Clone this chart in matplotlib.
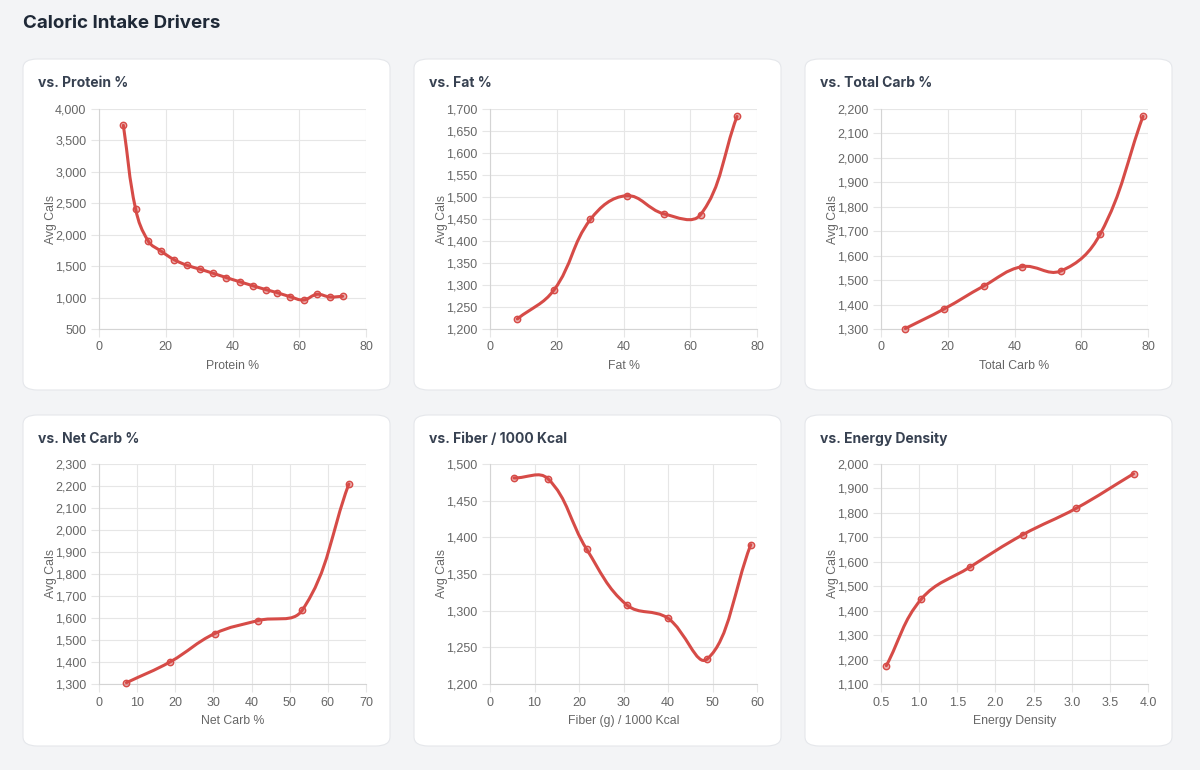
import numpy as np
import matplotlib
matplotlib.use("Agg")
import matplotlib.pyplot as plt
from matplotlib.patches import FancyBboxPatch, PathPatch
from matplotlib.path import Path
from matplotlib.ticker import FuncFormatter, MultipleLocator

plt.rcParams['font.family'] = ['Inter', 'DejaVu Sans']
AXFONT = ['Liberation Sans', 'DejaVu Sans']

# data
protein_x = [7.3, 11.0, 14.8, 18.7, 22.5, 26.4, 30.4, 34.2, 38.2, 42.1, 46.0, 49.9, 53.4, 57.2, 61.3, 65.3, 69.1, 73.0]
protein_y = [3740, 2402, 1895, 1735, 1603, 1513, 1450, 1386, 1317, 1253, 1190, 1128, 1078, 1015, 962, 1052, 1010, 1020]

fat_x = [8.2, 19.2, 30.1, 40.9, 52.0, 63.1, 74.0]
fat_y = [1223, 1289, 1449, 1503, 1462, 1460, 1683]

tcarb_x = [7.3, 18.9, 30.8, 42.2, 53.8, 65.7, 78.5]
tcarb_y = [1302, 1382, 1476, 1555, 1537, 1689, 2170]

ncarb_x = [7.2, 18.7, 30.3, 41.6, 53.3, 65.5]
ncarb_y = [1306, 1401, 1529, 1588, 1636, 2209]

fiber_x = [5.4, 13.0, 21.7, 30.7, 39.9, 48.8, 58.6]
fiber_y = [1481, 1480, 1384, 1308, 1290, 1234, 1390]

dens_x = [0.57, 1.03, 1.67, 2.36, 3.06, 3.81]
dens_y = [1175, 1448, 1579, 1711, 1819, 1960]

panels = [
    ("vs. Protein %", "Protein %", protein_x, protein_y, (0, 80, 20), (500, 4000, 500)),
    ("vs. Fat %", "Fat %", fat_x, fat_y, (0, 80, 20), (1200, 1700, 50)),
    ("vs. Total Carb %", "Total Carb %", tcarb_x, tcarb_y, (0, 80, 20), (1300, 2200, 100)),
    ("vs. Net Carb %", "Net Carb %", ncarb_x, ncarb_y, (0, 70, 10), (1300, 2300, 100)),
    ("vs. Fiber / 1000 Kcal", "Fiber (g) / 1000 Kcal", fiber_x, fiber_y, (0, 60, 10), (1200, 1500, 50)),
    ("vs. Energy Density", "Energy Density", dens_x, dens_y, (0.5, 4.0, 0.5), (1100, 2000, 100)),
]

W, H = 1200, 770
BG = '#f3f4f6'
RED = '#d64b47'
GRID = '#e6e6e6'
TICK = '#666666'

fig = plt.figure(figsize=(12, 7.7), dpi=100)
fig.patch.set_facecolor(BG)

fig.text(23 / W, 1 - 23 / H, "Caloric Intake Drivers", fontsize=13.5, fontweight='bold',
         color='#1f2937', va='center', ha='left')

card_cols = [23, 414, 805]
card_rows = [59, 415]
card_w, card_h = 367, 331
axes_cols = [99, 490, 881]
axes_rows = [109, 464]
ax_w, ax_h = 267, 220


def spline_path(xs, ys, xlim, ylim, pw, ph, tension=0.4):
    # chart.js style bezier control points, computed in pixel space
    px = (np.array(xs) - xlim[0]) / (xlim[1] - xlim[0]) * pw
    py = (np.array(ys) - ylim[0]) / (ylim[1] - ylim[0]) * ph
    n = len(px)
    verts = [(px[0], py[0])]
    codes = [Path.MOVETO]
    cps = []
    for i in range(n):
        p0 = (px[max(i - 1, 0)], py[max(i - 1, 0)])
        p1 = (px[i], py[i])
        p2 = (px[min(i + 1, n - 1)], py[min(i + 1, n - 1)])
        d01 = np.hypot(p1[0] - p0[0], p1[1] - p0[1])
        d12 = np.hypot(p2[0] - p1[0], p2[1] - p1[1])
        tot = d01 + d12
        s01 = d01 / tot if tot else 0
        s12 = d12 / tot if tot else 0
        fa = tension * s01
        fb = tension * s12
        prev_cp = (p1[0] - fa * (p2[0] - p0[0]), p1[1] - fa * (p2[1] - p0[1]))
        next_cp = (p1[0] + fb * (p2[0] - p0[0]), p1[1] + fb * (p2[1] - p0[1]))
        cps.append((prev_cp, next_cp))
    for i in range(1, n):
        verts += [cps[i - 1][1], cps[i][0], (px[i], py[i])]
        codes += [Path.CURVE4] * 3
    verts = np.array(verts)
    verts[:, 0] = verts[:, 0] / pw * (xlim[1] - xlim[0]) + xlim[0]
    verts[:, 1] = verts[:, 1] / ph * (ylim[1] - ylim[0]) + ylim[0]
    return Path(verts, codes)


for k, (title, xlabel, xs, ys, xr, yr) in enumerate(panels):
    r, c = divmod(k, 3)
    cx, cy = card_cols[c], card_rows[r]
    card = FancyBboxPatch((cx / W, 1 - (cy + card_h) / H), card_w / W, card_h / H,
                          boxstyle="round,pad=0,rounding_size=0.012",
                          transform=fig.transFigure, facecolor='white',
                          edgecolor='#e5e7eb', linewidth=0.8, zorder=-1)
    fig.patches.append(card)
    fig.text((cx + 15) / W, 1 - (cy + 24) / H, title, fontsize=10, fontweight='bold',
             color='#374151', va='center', ha='left')

    ax = fig.add_axes([axes_cols[c] / W, 1 - (axes_rows[r] + ax_h) / H, ax_w / W, ax_h / H])
    ax.set_facecolor('white')
    xlim = (xr[0], xr[1])
    ylim = (yr[0], yr[1])
    ax.set_xlim(*xlim)
    ax.set_ylim(*ylim)
    ax.xaxis.set_major_locator(MultipleLocator(xr[2]))
    ax.yaxis.set_major_locator(MultipleLocator(yr[2]))
    if xr[2] < 1:
        ax.xaxis.set_major_formatter(FuncFormatter(lambda v, p: f"{v:.1f}"))
    else:
        ax.xaxis.set_major_formatter(FuncFormatter(lambda v, p: f"{v:.0f}"))
    ax.yaxis.set_major_formatter(FuncFormatter(lambda v, p: f"{v:,.0f}"))
    ax.grid(True, color=GRID, linewidth=0.8)
    ax.set_axisbelow(True)
    for side in ['top', 'right']:
        ax.spines[side].set_visible(False)
    for side in ['left', 'bottom']:
        ax.spines[side].set_color('#d4d4d4')
        ax.spines[side].set_linewidth(0.8)
    ax.tick_params(axis='both', colors=GRID, labelcolor=TICK, labelsize=9, length=6, width=0.8, pad=3)
    for lab in ax.get_xticklabels() + ax.get_yticklabels():
        lab.set_family(AXFONT)
    ax.set_xlabel(xlabel, fontsize=8.8, color=TICK, labelpad=5, family=AXFONT)
    ax.set_ylabel("Avg Cals", fontsize=8.8, color=TICK, labelpad=-1, family=AXFONT)

    path = spline_path(xs, ys, xlim, ylim, ax_w, ax_h)
    ax.add_patch(PathPatch(path, facecolor='none', edgecolor=RED, linewidth=2.2,
                           capstyle='round', joinstyle='round', zorder=3, clip_on=False))
    ax.plot(xs, ys, linestyle='none', marker='o', markersize=4.6,
            markerfacecolor=(0.84, 0.29, 0.28, 0.45), markeredgecolor=RED,
            markeredgewidth=1.0, zorder=4, clip_on=False)

fig.savefig("out.png", dpi=100, facecolor=fig.get_facecolor())
